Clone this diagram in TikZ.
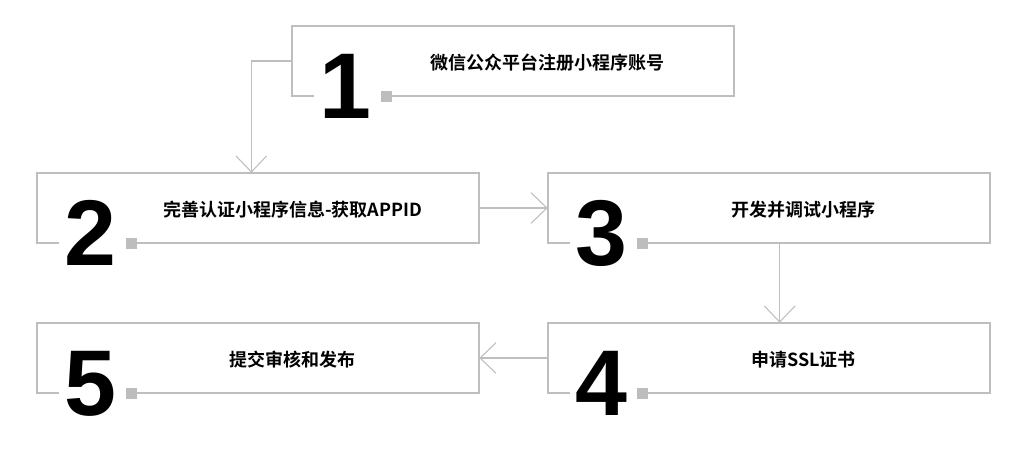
\documentclass[tikz,border=0pt]{standalone}
\usepackage{fontspec}
\usetikzlibrary{positioning, arrows.meta}
\newfontfamily\cjk{Noto Sans CJK SC Bold}
\newfontfamily\digitfont{Liberation Sans Bold}
\definecolor{frame-color}{HTML}{BEBEBE}
\definecolor{mark-color}{HTML}{BDBDBD}

\begin{document}
\begin{tikzpicture}[x=0.75pt, y=-0.75pt,
stepbox/.style={minimum width=331.5pt, minimum height=52.5pt, inner sep=0pt},
num/.style={font=\digitfont\fontsize{70}{70}\selectfont, anchor=base, inner sep=0pt},
marker/.style={fill=mark-color, minimum size=8pt, inner sep=0pt},
steptext/.style={font=\cjk\fontsize{13.5}{13.5}\selectfont, inner sep=0pt},
frame/.style={draw=frame-color, line width=1.2pt},
conn/.style={draw=frame-color, line width=0.8pt, -{Straight Barb[length=12pt, width=23pt, line width=0.8pt]}}
]
\useasboundingbox (0,0) rectangle (1023,459);

% the five steps
\node[stepbox](b1) at (513,61) {};
\node[stepbox](b2) at (258,208) {};
\node[stepbox](b3) at (769,208) {};
\node[stepbox](b4) at (769,358) {};
\node[stepbox](b5) at (258,358) {};

\foreach \b/\t in {1/微信公众平台注册小程序账号, 2/完善认证小程序信息-获取APPID, 3/开发并调试小程序, 4/申请SSL证书, 5/提交审核和发布}{
  \node[marker](s\b) at ([xshift=71pt]b\b.south west) {};
  \node[num](n\b) at ([xshift=40.5pt, yshift=-16.5pt]b\b.south west) {\b};
  \node[steptext](t\b) at ([xshift=26pt, yshift=-1.5pt]b\b.center) {\t};
  \draw[frame] ([xshift=16.5pt]b\b.south west) -- (b\b.south west) -- (b\b.north west)
    -- (b\b.north east) -- (b\b.south east) -- (s\b.east);
}

% connectors
\draw[conn] (b1.west) -| ([xshift=-5pt]b2.north);
\draw[conn] (b2.east) -- (b3.west);
\draw[conn] ([xshift=8pt]b3.south) -- ([xshift=8pt]b4.north);
\draw[conn] (b4.west) -- (b5.east);

\end{tikzpicture}
\end{document}
